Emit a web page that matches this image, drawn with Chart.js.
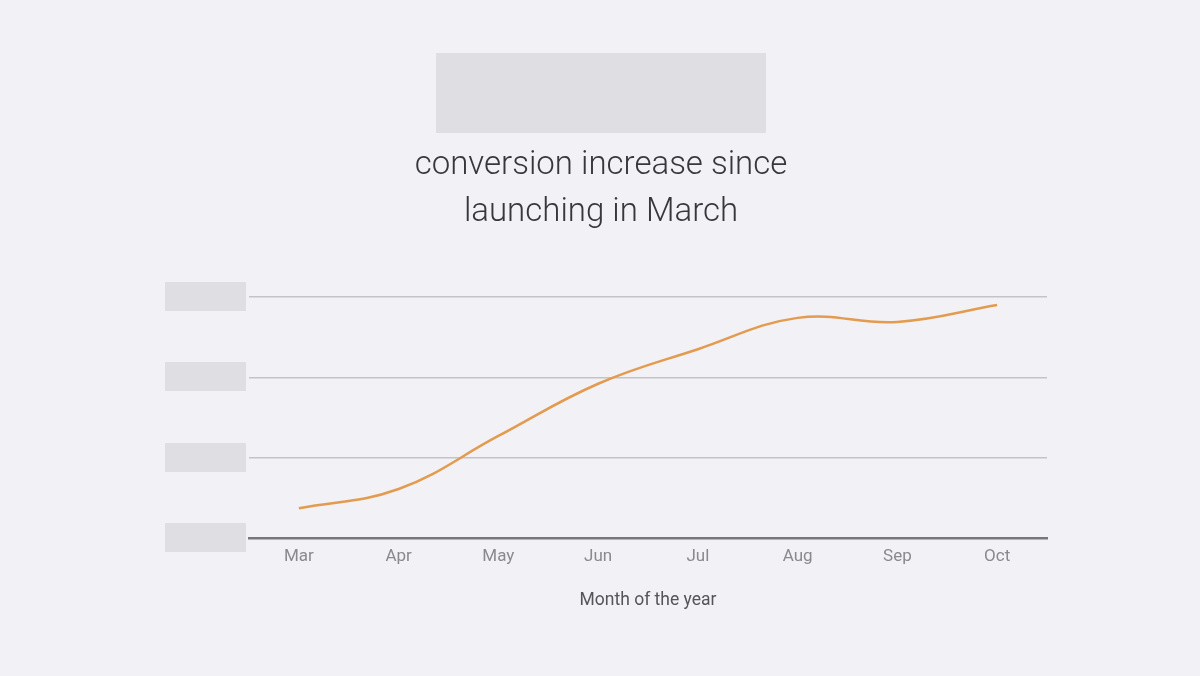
<!DOCTYPE html>
<html>
<head>
<meta charset="utf-8">
<script src="https://cdn.jsdelivr.net/npm/chart.js@4.4.1/dist/chart.umd.min.js"></script>
<style>
  html, body { margin: 0; padding: 0; background: #f2f1f5; }
  #wrap { width: 1200px; height: 676px; }
</style>
</head>
<body>
<div id="wrap"><canvas id="c" width="1200" height="676"></canvas></div>
<script>
const months = ['Mar', 'Apr', 'May', 'Jun', 'Jul', 'Aug', 'Sep', 'Oct'];
const conversion = [0.37, 0.61, 1.27, 1.92, 2.35, 2.74, 2.69, 2.90];
const yTicks = [0, 1, 2, 3];
const titleLines = ['conversion increase since', 'launching in March'];
const xAxisTitle = 'Month of the year';

const placeholderPlugin = {
  id: 'placeholders',
  beforeDraw(chart) {
    const ctx = chart.ctx;
    ctx.save();
    ctx.fillStyle = '#f2f1f5';
    ctx.fillRect(0, 0, chart.width, chart.height);
    // title placeholder block
    ctx.fillStyle = '#dfdee2';
    ctx.fillRect(436, 53, 330, 80);
    // y tick label placeholders
    const y = chart.scales.y;
    yTicks.forEach(v => {
      const py = y.getPixelForValue(v);
      ctx.fillRect(165, Math.round(py) - 15, 81, 29);
    });
    ctx.restore();
  }
};

new Chart(document.getElementById('c'), {
  type: 'line',
  data: {
    labels: months,
    datasets: [{
      data: conversion,
      borderColor: '#e39b4f',
      borderWidth: 2.5,
      pointRadius: 0,
      tension: 0.4,
      fill: false
    }]
  },
  options: {
    responsive: false,
    animation: false,
    devicePixelRatio: 1,
    layout: { padding: { left: 155, right: 153, top: 0, bottom: 0 } },
    plugins: {
      legend: { display: false },
      tooltip: { enabled: false },
      title: {
        display: true,
        text: titleLines,
        color: '#38383c',
        font: { family: 'Roboto', size: 33, weight: '300', lineHeight: 1.424 },
        padding: { top: 142, bottom: 61 }
      }
    },
    scales: {
      x: {
        offset: true,
        afterFit(scale) { scale.height = 138; },
        grid: { display: false, drawTicks: false },
        border: { display: true, color: '#77767b', width: 2.5 },
        ticks: { color: '#8a898e', font: { family: 'Roboto', size: 17 }, padding: 9 },
        title: {
          display: true,
          text: xAxisTitle,
          color: '#55545a',
          font: { family: 'Roboto', size: 17.5 },
          padding: { top: 0, bottom: 65 }
        }
      },
      y: {
        min: 0,
        max: 3,
        afterFit(scale) { scale.width = 94; },
        afterBuildTicks(scale) { scale.ticks = yTicks.map(v => ({ value: v })); },
        grid: { color: '#c4c3c8', lineWidth: 1.5, drawTicks: false },
        border: { display: false },
        ticks: { display: false }
      }
    }
  },
  plugins: [placeholderPlugin]
});
</script>
</body>
</html>
